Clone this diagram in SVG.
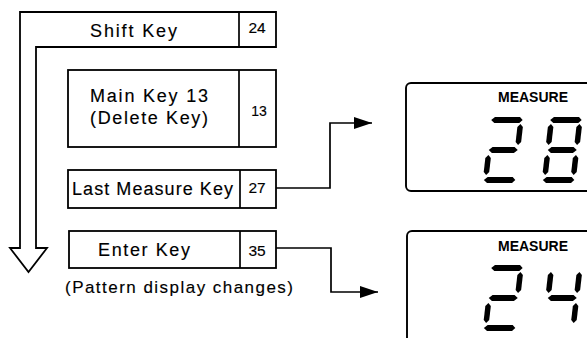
<svg xmlns="http://www.w3.org/2000/svg" width="587" height="338" viewBox="0 0 587 338">
<style>
.box{fill:#fff;stroke:#000;stroke-width:1.8;stroke-linejoin:miter}
.ln{fill:none;stroke:#000;stroke-width:1.7}
.lbl{font-family:"Liberation Sans",Arial,sans-serif;font-size:18px;fill:#000;stroke:#000;stroke-width:0.15}
.note{font-family:"Liberation Sans",Arial,sans-serif;font-size:17px;fill:#000;stroke:#000;stroke-width:0.15}
.num{font-family:"Liberation Sans",Arial,sans-serif;font-size:15.5px;fill:#000;text-anchor:middle;stroke:#000;stroke-width:0.15}
.num13{font-family:"Liberation Sans",Arial,sans-serif;font-size:14px;fill:#000;text-anchor:middle;stroke:#000;stroke-width:0.15}
.cap{font-family:"Liberation Sans",Arial,sans-serif;font-size:14px;font-weight:bold;fill:#000;text-anchor:middle}
.disp{fill:#fff;stroke:#000;stroke-width:1.9}
.seg{fill:#000}
</style>
<defs>
<marker id="ah" viewBox="0 0 18 12" refX="18" refY="6" markerWidth="18" markerHeight="12" markerUnits="userSpaceOnUse" orient="auto">
<path d="M0,0 L18,6 L0,12 Z" fill="#000"/>
</marker>
<polygon id="sa" class="seg" points="1.5,3 5,0 30,0 33,3 30,6 5,6"/>
<polygon id="sg" class="seg" points="2.5,33 6,30 28,30 31.5,33 28,36 6,36"/>
<polygon id="sd" class="seg" points="1,63 4.5,60 29.5,60 32.5,63 29.5,66 4.5,66"/>
<polygon id="sf" class="seg" points="2.75,7 5.5,10 5.5,25 2.75,28 0,25 0,10"/>
<polygon id="sb" class="seg" points="31.25,7 34,10 34,25 31.25,28 28.5,25 28.5,10"/>
<polygon id="se" class="seg" points="2.75,38 5.5,41 5.5,55 2.75,58 0,55 0,41"/>
<polygon id="sc" class="seg" points="31.25,38 34,41 34,55 31.25,58 28.5,55 28.5,41"/>
<g id="d2"><use href="#sa"/><use href="#sb"/><use href="#sg"/><use href="#se"/><use href="#sd"/></g>
<g id="d8"><use href="#sa"/><use href="#sb"/><use href="#sc"/><use href="#sd"/><use href="#se"/><use href="#sf"/><use href="#sg"/></g>
<g id="d4"><use href="#sf"/><use href="#sb"/><use href="#sg"/><use href="#sc"/></g>
</defs>
<rect width="587" height="338" fill="#fff"/>

<g id="shift-key">
<path class="box" d="M20,12 H276 V47 H36 V248 H47 L28.5,272 L10,248 H20 Z"/>
<line class="ln" x1="239" y1="12" x2="239" y2="47"/>
<text class="lbl" x="90" y="37" textLength="87" lengthAdjust="spacing">Shift Key</text>
<text class="num" x="257" y="33">24</text>
</g>

<g id="main-key">
<rect class="box" x="68" y="70" width="208" height="77"/>
<line class="ln" x1="239" y1="70" x2="239" y2="147"/>
<text class="lbl" x="90" y="102" textLength="118" lengthAdjust="spacing">Main Key 13</text>
<text class="lbl" x="90" y="124" textLength="118" lengthAdjust="spacing">(Delete Key)</text>
<text class="num13" x="259" y="116">13</text>
</g>

<g id="last-measure-key">
<rect class="box" x="68" y="170" width="208" height="38"/>
<line class="ln" x1="240" y1="170" x2="240" y2="208"/>
<text class="lbl" x="72" y="195" textLength="161" lengthAdjust="spacing">Last Measure Key</text>
<text class="num" x="257" y="193">27</text>
</g>

<g id="enter-key">
<rect class="box" x="69" y="231" width="207" height="37"/>
<line class="ln" x1="240" y1="231" x2="240" y2="268"/>
<text class="lbl" x="98" y="256" textLength="92" lengthAdjust="spacing">Enter Key</text>
<text class="num" x="257" y="256">35</text>
</g>

<g id="note">
<text class="note" x="65" y="293" textLength="228" lengthAdjust="spacing">(Pattern display changes)</text>
</g>

<g id="connectors">
<path class="ln" d="M276,188 H330 V123 H372" marker-end="url(#ah)"/>
<path class="ln" d="M276,248 H331 V292 H378" marker-end="url(#ah)"/>
</g>

<g id="display-28">
<rect class="disp" x="406" y="83" width="200" height="108" rx="5"/>
<text class="cap" x="533" y="102">MEASURE</text>
<use href="#d2" transform="translate(490,117) skewX(-6.5)"/>
<use href="#d8" transform="translate(549,117) skewX(-6.5)"/>
</g>

<g id="display-24">
<rect class="disp" x="407" y="231" width="200" height="150" rx="5"/>
<text class="cap" x="533" y="251">MEASURE</text>
<use href="#d2" transform="translate(490,265) skewX(-6.5)"/>
<use href="#d4" transform="translate(549,265) skewX(-6.5)"/>
</g>
</svg>
